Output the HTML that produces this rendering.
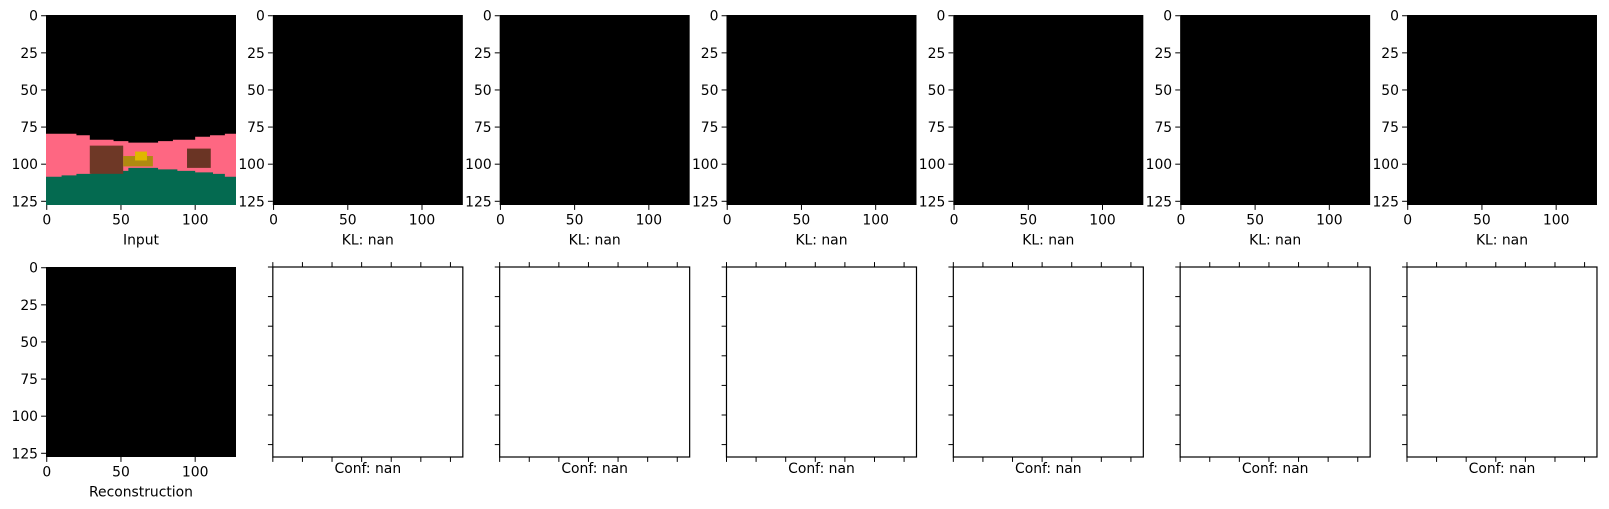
<!DOCTYPE html>
<html><head><meta charset="utf-8">
<style>
html,body{margin:0;padding:0;background:#fff;}
svg{display:block;font-family:"DejaVu Sans","Liberation Sans",sans-serif;}
</style></head>
<body>
<svg id="fig" width="1609" height="509" viewBox="0 0 1609 509" xmlns="http://www.w3.org/2000/svg">
<rect x="0" y="0" width="1609" height="509" fill="#fff"/>
</svg>
<script>
const yTickVals = [0,25,50,75,100,125];
const xTickVals = [0,50,100];
const topLabels = ["Input","KL: nan","KL: nan","KL: nan","KL: nan","KL: nan","KL: nan"];
const bottomLabels = ["Reconstruction","Conf: nan","Conf: nan","Conf: nan","Conf: nan","Conf: nan","Conf: nan"];
const confTickCount = 7;
// input image scene in image pixel coords (0..128)
const pinkTop = [[-0.5,80],[20,80],[20,81],[29,81],[29,84],[45,84],[45,85],[55,85],[55,86],[75,86],[75,85],[85,85],[85,84],[100,84],[100,82],[110,82],[110,81],[120,81],[120,80],[127.5,80]];
const greenTop = [[-0.5,109],[10,109],[10,108],[20,108],[20,107],[30,107],[30,106],[45,106],[45,105],[55,105],[55,103],[75,103],[75,104],[88,104],[88,105],[100,105],[100,106],[112,106],[112,107],[120,107],[120,109],[127.5,109]];
const objects = [
 {x0:29.5,x1:52,y0:88,y1:107,c:"#6e3826"},
 {x0:52,x1:72,y0:95,y1:102,c:"#b08a10"},
 {x0:60,x1:68,y0:92,y1:98,c:"#e0b800"},
 {x0:95,x1:111,y0:90,y1:103,c:"#6a3424"}
];
const NS="http://www.w3.org/2000/svg";
const svg=document.getElementById('fig');
const W=190, PITCH=226.83, LEFT0=46, TOPS=[15,267];
function mk(tag,attrs,parent){const e=document.createElementNS(NS,tag);for(const k in attrs)e.setAttribute(k,attrs[k]);(parent||svg).appendChild(e);return e;}
function sx(px,v){return px+(v+0.5)*W/128;}
function sy(py,v){return py+(v+0.5)*W/128;}
function imgPanel(i,row,idx){
  const px=LEFT0+i*PITCH, py=TOPS[row];
  const g=mk('g',{});
  
  
  const bg=mk('rect',{x:px,y:py,width:W,height:W,fill:'#000'},g);
  
  
  if(row===0&&i===0){
    const pts=pinkTop.map(p=>sx(px,p[0]-0.5+0.5)+','+(py+(p[1])*W/128)).join(' ');
    const pink=mk('polygon',{points:pts+' '+(px+W)+','+(py+W)+' '+px+','+(py+W),fill:'#fe6782'},g);
    
    
    const gp=greenTop.map(p=>sx(px,p[0])+','+(py+p[1]*W/128)).join(' ');
    const green=mk('polygon',{points:gp+' '+(px+W)+','+(py+W)+' '+px+','+(py+W),fill:'#046a50'},g);
    
    
    objects.forEach(o=>{
      const r=mk('rect',{x:px+o.x0*W/128,y:py+o.y0*W/128,width:(o.x1-o.x0)*W/128,height:(o.y1-o.y0)*W/128,fill:o.c},g);
      
      
    });
  }
  yTickVals.forEach(v=>{
    const y=sy(py,v);
    mk('line',{x1:px-4.9,x2:px,y1:y,y2:y,stroke:'#000','stroke-width':1},g);
    const t=mk('text',{x:px-8,y:y+5,'text-anchor':'end','font-size':'13.9px',fill:'#000'},g);
    t.textContent=v;
    
    
  });
  xTickVals.forEach(v=>{
    const x=sx(px,v);
    mk('line',{x1:x,x2:x,y1:py+W,y2:py+W+4.9,stroke:'#000','stroke-width':1},g);
    const t=mk('text',{x:x,y:py+W+19.5,'text-anchor':'middle','font-size':'13.9px',fill:'#000'},g);
    t.textContent=v;
    
    
  });
  const lab=mk('text',{x:px+W/2,y:py+W+39.5,'text-anchor':'middle','font-size':'13.9px',fill:'#000'},g);
  lab.textContent=row===0?topLabels[i]:bottomLabels[i];
  
  
}
function confPanel(i){
  const px=LEFT0+i*PITCH, py=TOPS[1];
  const g=mk('g',{});
  
  
  const step=29.6;
  for(let j=0;j<confTickCount;j++){
    const x=px+j*step;
    mk('line',{x1:x,x2:x,y1:py-4.9,y2:py,stroke:'#000','stroke-width':1},g);
    mk('line',{x1:x,x2:x,y1:py+W,y2:py+W+4.9,stroke:'#000','stroke-width':1},g);
    const y=py+j*step;
    mk('line',{x1:px-4.9,x2:px,y1:y,y2:y,stroke:'#000','stroke-width':1},g);
  }
  const fr=mk('rect',{x:px,y:py,width:W,height:W,fill:'#fff',stroke:'#000','stroke-width':1.2},g);
  
  
  const lab=mk('text',{x:px+W/2,y:py+W+16,'text-anchor':'middle','font-size':'13.9px',fill:'#000'},g);
  lab.textContent=bottomLabels[i];
  
  
}
for(let i=0;i<7;i++) imgPanel(i,0);
imgPanel(0,1);
for(let i=1;i<7;i++) confPanel(i);
</script>
</body></html>
